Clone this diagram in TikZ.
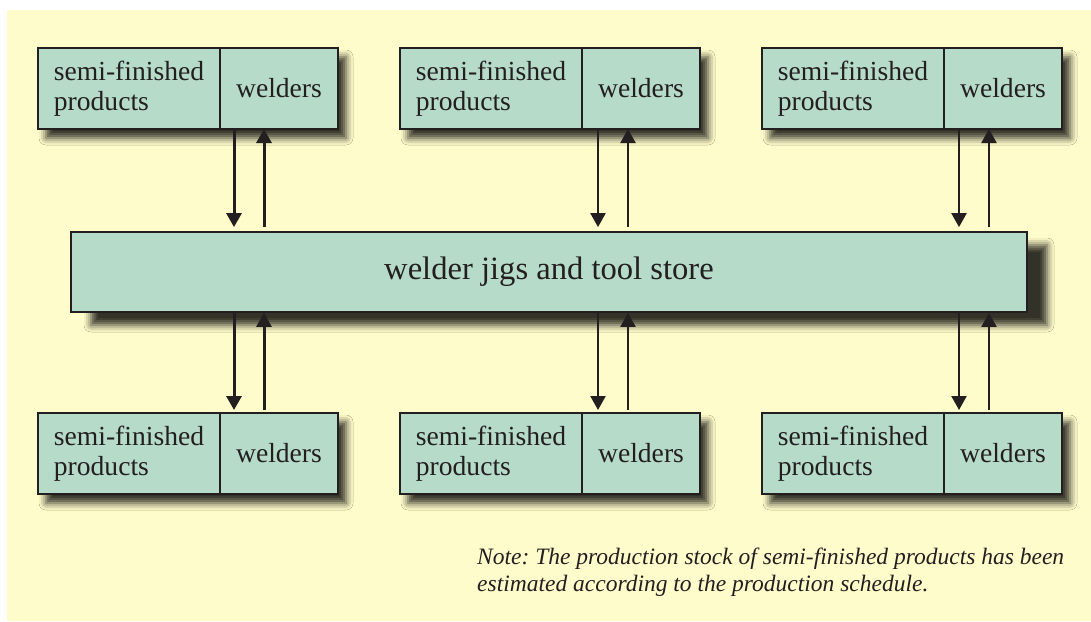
\documentclass[tikz,border=0pt]{standalone}
\usepackage{fontspec}
\setmainfont{Liberation Serif}
\usepackage{xcolor}
\usepackage{tikz}
\usetikzlibrary{arrows.meta, positioning, fit, backgrounds, shadows.blur}
\definecolor{cBg}{HTML}{FFFCCB}
\definecolor{cBox}{HTML}{B6DCC9}
\definecolor{cLine}{HTML}{231F20}
\frenchspacing

\begin{document}
\begin{tikzpicture}[
  x=1pt, y=-1pt,
  every node/.style={font=\fontsize{27.6}{30}\selectfont, text=cLine},
  part/.style={draw=cLine, fill=cBox, line width=1.6pt, inner sep=0pt, outer sep=0pt, minimum height=81pt},
  prod/.style={part, minimum width=182pt, align=left},
  weld/.style={part, minimum width=118pt},
  boxshadow/.style={inner sep=0pt, outer sep=0pt, blur shadow={shadow xshift=8pt, shadow yshift=-9pt, shadow blur radius=7pt, shadow opacity=80}},
  store/.style={draw=cLine, fill=cBox, line width=1.8pt, inner sep=0pt, minimum width=956pt, minimum height=80pt,
    font=\fontsize{32.6}{36}\selectfont, blur shadow={shadow xshift=20pt, shadow yshift=-13pt, shadow blur radius=7pt, shadow opacity=80}},
  ar/.style={-{Triangle[length=14pt, width=15pt]}, line width=2.3pt, draw=cLine},
  arb/.style={ar, line width=3pt}
]
\useasboundingbox (0,0) rectangle (1091,621);

% top row
\node[prod] (p1) at (129,88.5) {semi-finished\\products};
\node[weld, right=0pt of p1] (w1) {welders};
\node[prod] (p2) at (491,88.5) {semi-finished\\products};
\node[weld, right=0pt of p2] (w2) {welders};
\node[prod] (p3) at (853,88.5) {semi-finished\\products};
\node[weld, right=0pt of p3] (w3) {welders};

% store
\node[store] (main) at (549,272) {welder jigs and tool store};

% bottom row
\node[prod] (bp1) at (129,453.5) {semi-finished\\products};
\node[weld, right=0pt of bp1] (bw1) {welders};
\node[prod] (bp2) at (491,453.5) {semi-finished\\products};
\node[weld, right=0pt of bp2] (bw2) {welders};
\node[prod] (bp3) at (853,453.5) {semi-finished\\products};
\node[weld, right=0pt of bp3] (bw3) {welders};

\node[anchor=north west, align=left, inner sep=0pt, font=\fontsize{23.5}{27}\selectfont\itshape] (note) at (477,548)
  {Note: The production stock of semi-finished products has been\\estimated according to the production schedule.};

\begin{scope}[on background layer]
  \fill[cBg] (7,10) rectangle (1091,621);
  \node[boxshadow, fit=(p1)(w1)] {};
  \node[boxshadow, fit=(p2)(w2)] {};
  \node[boxshadow, fit=(p3)(w3)] {};
  \node[boxshadow, fit=(bp1)(bw1)] {};
  \node[boxshadow, fit=(bp2)(bw2)] {};
  \node[boxshadow, fit=(bp3)(bw3)] {};
\end{scope}

\draw[arb, shorten >=4pt] ([xshift=14pt]w1.south west) -- ([xshift=14pt]w1.south west |- main.north);
\draw[arb, shorten <=4pt] ([xshift=44pt]w1.south west |- main.north) -- ([xshift=44pt]w1.south west);
\draw[ar, shorten >=4pt] ([xshift=16pt]w2.south west) -- ([xshift=16pt]w2.south west |- main.north);
\draw[ar, shorten <=4pt] ([xshift=46pt]w2.south west |- main.north) -- ([xshift=46pt]w2.south west);
\draw[ar, shorten >=4pt] ([xshift=15pt]w3.south west) -- ([xshift=15pt]w3.south west |- main.north);
\draw[ar, shorten <=4pt] ([xshift=45pt]w3.south west |- main.north) -- ([xshift=45pt]w3.south west);

\draw[arb, shorten >=3pt] ([xshift=14pt]bw1.north west |- main.south) -- ([xshift=14pt]bw1.north west);
\draw[arb, shorten <=3pt] ([xshift=44pt]bw1.north west) -- ([xshift=44pt]bw1.north west |- main.south);
\draw[ar, shorten >=3pt] ([xshift=16pt]bw2.north west |- main.south) -- ([xshift=16pt]bw2.north west);
\draw[ar, shorten <=3pt] ([xshift=46pt]bw2.north west) -- ([xshift=46pt]bw2.north west |- main.south);
\draw[ar, shorten >=3pt] ([xshift=15pt]bw3.north west |- main.south) -- ([xshift=15pt]bw3.north west);
\draw[ar, shorten <=3pt] ([xshift=45pt]bw3.north west) -- ([xshift=45pt]bw3.north west |- main.south);
\end{tikzpicture}
\end{document}
